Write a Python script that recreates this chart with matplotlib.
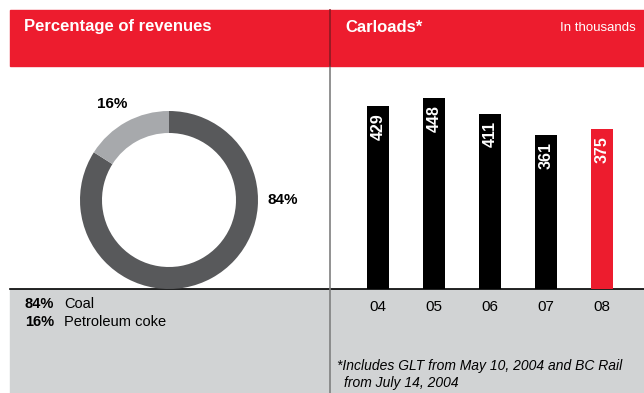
import matplotlib
matplotlib.use('Agg')
import matplotlib.pyplot as plt
from matplotlib.patches import Rectangle
from matplotlib.lines import Line2D

plt.rcParams['font.family'] = ['Liberation Sans', 'DejaVu Sans']

# data
shares = [84, 16]
share_names = ['Coal', 'Petroleum coke']
share_colors = ['#58595b', '#a7a9ac']
years = ['04', '05', '06', '07', '08']
carloads = [429, 448, 411, 361, 375]
bar_colors = ['black', 'black', 'black', 'black', '#ed1c2e']

RED = '#ed1c2e'
W, H = 644, 393


def fx(px):
    return px / W


def fy(py):
    return 1 - py / H


fig = plt.figure(figsize=(W / 100, H / 100), dpi=100)

# header band and grey footer band (behind the axes)
fig.patches.append(Rectangle((fx(10), fy(66)), fx(634), (66 - 10) / H,
                             transform=fig.transFigure, color=RED, zorder=-2))
fig.patches.append(Rectangle((fx(10), 0), fx(634), fy(289),
                             transform=fig.transFigure, color='#d1d3d4', zorder=-2))
fig.lines.append(Line2D([fx(10), 1], [fy(289), fy(289)], transform=fig.transFigure,
                        color='black', lw=1.2, zorder=-1))
fig.lines.append(Line2D([fx(330), fx(330)], [fy(66), 0], transform=fig.transFigure,
                        color='#7f7f7f', lw=1.2, zorder=-1))
fig.lines.append(Line2D([fx(330), fx(330)], [fy(10), fy(66)], transform=fig.transFigure,
                        color='#8b1a22', lw=1.2, zorder=-1))

fig.text(fx(24), fy(27), 'Percentage of revenues', color='white', fontsize=12,
         fontweight='bold', va='center', ha='left')
fig.text(fx(345), fy(27), 'Carloads*', color='white', fontsize=12,
         fontweight='bold', va='center', ha='left')
fig.text(fx(636), fy(28), 'In thousands', color='white', fontsize=9.5,
         va='center', ha='right')

# donut
ax1 = fig.add_axes([fx(80), fy(289), 178 / W, 178 / H])
ax1.pie(shares, colors=share_colors, startangle=90, counterclock=False,
        wedgeprops=dict(width=22 / 89, linewidth=0))
ax1.set_xlim(-1, 1)
ax1.set_ylim(-1, 1)
ax1.set_aspect('equal')
ax1.text(-0.64, 1.08, f'{shares[1]}%', fontsize=11, fontweight='bold',
         ha='center', va='center')
ax1.text(1.28, 0.0, f'{shares[0]}%', fontsize=11, fontweight='bold',
         ha='center', va='center')

# legend text in grey band
for i, (s, n) in enumerate(zip(shares, share_names)):
    y = fy(304 + i * 18)
    fig.text(fx(25), y, f'{s}%', fontsize=10.5, fontweight='bold', va='center')
    fig.text(fx(64), y, n, fontsize=10.5, va='center')

# bars
ax2 = fig.add_axes([fx(330), fy(289), (W - 330) / W, (289 - 66) / H])
ax2.patch.set_alpha(0)
x = range(len(years))
bars = ax2.bar(x, carloads, width=22 / 56, color=bar_colors)
for b, v in zip(bars, carloads):
    ax2.annotate(str(v), (b.get_x() + b.get_width() / 2, v), xytext=(0, -5),
                 textcoords='offset points', rotation=90, color='white',
                 fontsize=11.5, fontweight='bold', ha='center', va='top')
ax2.set_xlim(-48 / 56, 266 / 56)
ax2.set_ylim(0, 223 / 0.4265)
ax2.set_xticks(list(x))
ax2.set_xticklabels(years, fontsize=11)
ax2.tick_params(axis='x', length=0, pad=8)
ax2.set_yticks([])
for sp in ax2.spines.values():
    sp.set_visible(False)

fig.text(fx(337), fy(366), '*Includes GLT from May 10, 2004 and BC Rail',
         fontsize=10, style='italic', va='center')
fig.text(fx(344), fy(383), 'from July 14, 2004', fontsize=10, style='italic',
         va='center')

fig.savefig('out.png', dpi=100)
